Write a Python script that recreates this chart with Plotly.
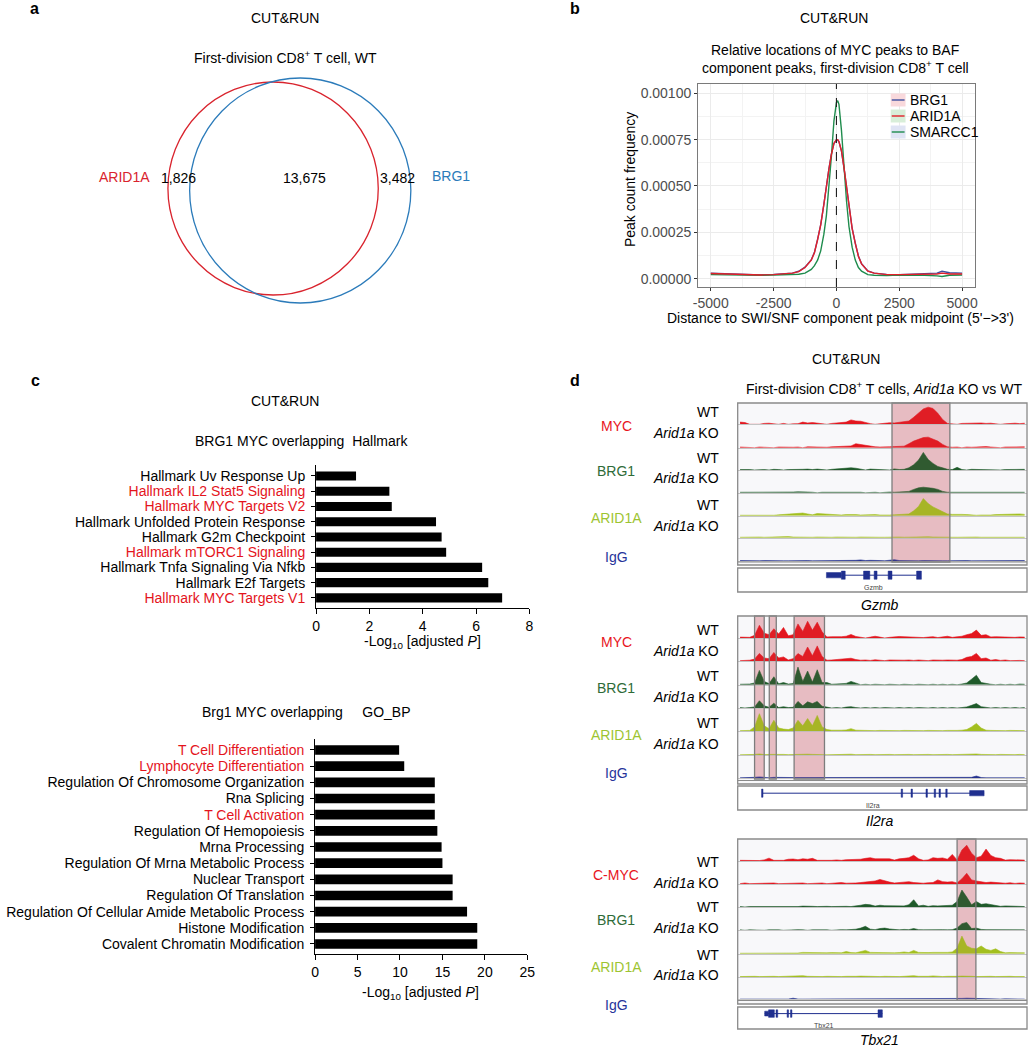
import plotly.graph_objects as go

W, H = 1036, 1050
FONT = "Arial, 'Liberation Sans', sans-serif"

# ------------------------------------------------------------------ data
VENN_SETS = ["ARID1A", "BRG1"]
VENN_COUNTS = ["1,826", "13,675", "3,482"]

B_X = [-5000, -4500, -4000, -3500, -3000, -2500, -2000, -1750, -1500, -1250, -1000, -875, -750, -625,
       -500, -400, -300, -200, -100, 0, 50, 100, 200, 300, 400, 500, 625, 750, 875, 1000, 1250, 1500,
       1750, 2000, 2500, 3000, 3500, 4000, 4200, 4500, 5000]
B_ARID1A = [0.000028, 0.000026, 0.000022, 0.00002, 0.00002, 0.000022, 0.000025, 0.00003, 0.000038, 0.00006,
            0.0001, 0.00014, 0.00021, 0.00029, 0.0004, 0.0005, 0.00059, 0.00067, 0.00073, 0.00075, 0.00075,
            0.00074, 0.00069, 0.0006, 0.0005, 0.0004, 0.00027, 0.00019, 0.00012, 0.00008, 0.00004, 0.00003,
            0.000025, 0.000022, 0.000022, 0.000023, 0.000022, 0.000025, 0.00003, 0.000025, 0.000025]
B_BRG1 = [0.00003, 0.000027, 0.000023, 0.000021, 0.00002, 0.000023, 0.000026, 0.00003, 0.00004, 0.000062,
          0.000102, 0.000142, 0.000212, 0.000292, 0.000402, 0.000502, 0.000592, 0.000672, 0.000728, 0.000748,
          0.000748, 0.000738, 0.000688, 0.000598, 0.000498, 0.000398, 0.000272, 0.000192, 0.000122, 0.00008,
          0.000042, 0.00003, 0.000025, 0.000023, 0.000022, 0.000024, 0.000025, 0.00003, 0.00004, 0.000032,
          0.00003]
B_SMARCC1 = [0.000022, 0.00002, 0.000018, 0.000017, 0.000018, 0.00002, 0.000022, 0.000022, 0.000024, 0.00003,
             0.00005, 0.00007, 0.0001, 0.00015, 0.00024, 0.00034, 0.00048, 0.00066, 0.00085, 0.00095, 0.00096,
             0.00094, 0.0008, 0.0006, 0.00042, 0.00028, 0.00017, 0.0001, 0.00006, 0.00004, 0.000022, 0.000018,
             0.000016, 0.000017, 0.00002, 0.00002, 0.000018, 0.000015, 0.000012, 0.000018, 0.00002]
B_XTICKS = [-5000, -2500, 0, 2500, 5000]
B_XMINOR = [-3750, -1250, 1250, 3750]
B_YTICKS = [0, 0.00025, 0.0005, 0.00075, 0.001]
B_YMINOR = [0.000125, 0.000375, 0.000625, 0.000875]
B_SERIES = ["BRG1", "ARID1A", "SMARCC1"]

HALLMARK_TERMS = ["Hallmark Uv Response Up", "Hallmark IL2 Stat5 Signaling", "Hallmark MYC Targets V2",
                  "Hallmark Unfolded Protein Response", "Hallmark G2m Checkpoint", "Hallmark mTORC1 Signaling",
                  "Hallmark Tnfa Signaling Via Nfkb", "Hallmark E2f Targets", "Hallmark MYC Targets V1"]
HALLMARK_VALUES = [1.5, 2.75, 2.84, 4.5, 4.71, 4.88, 6.23, 6.46, 6.98]
HALLMARK_RED = [False, True, True, False, False, True, False, False, True]
HALLMARK_XTICKS = [0, 2, 4, 6, 8]

GOBP_TERMS = ["T Cell Differentiation", "Lymphocyte Differentiation", "Regulation Of Chromosome Organization",
              "Rna Splicing", "T Cell Activation", "Regulation Of Hemopoiesis", "Mrna Processing",
              "Regulation Of Mrna Metabolic Process", "Nuclear Transport", "Regulation Of Translation",
              "Regulation Of Cellular Amide Metabolic Process", "Histone Modification",
              "Covalent Chromatin Modification"]
GOBP_VALUES = [9.9, 10.5, 14.1, 14.1, 14.1, 14.4, 14.9, 15.0, 16.2, 16.2, 17.9, 19.1, 19.1]
GOBP_RED = [True, True, False, False, True, False, False, False, False, False, False, False, False]
GOBP_XTICKS = [0, 5, 10, 15, 20, 25]

TRACK_NAMES = ["MYC WT", "MYC Arid1a KO", "BRG1 WT", "BRG1 Arid1a KO", "ARID1A WT", "ARID1A Arid1a KO", "IgG"]

GZMB_MYC_WT = [0.10, 0.08, 0, 0, 0, 0.04, 0.05, 0.02, 0, 0.04, 0, 0.02, 0.03, 0.10, 0.06, 0.08, 0.05, 0.03, 0, 0.04,
               0.06, 0.05, 0.10, 0.20, 0.15, 0.14, 0.07, 0.03, 0, 0.03, 0.06, 0.07, 0.06, 0.08, 0.10, 0.15, 0.32,
               0.52, 0.70, 0.78, 0.72, 0.50, 0.22, 0.04, 0.03, 0, 0.04, 0.05, 0.03, 0.05, 0.06, 0.04, 0.05, 0.02,
               0, 0.02, 0.04, 0.05, 0.03, 0.05]
GZMB_MYC_KO = [0.03, 0.02, 0.02, 0, 0.03, 0.02, 0.03, 0, 0.03, 0.02, 0.04, 0.02, 0.03, 0, 0.04, 0.03, 0.05, 0.04,
               0.02, 0.04, 0.05, 0.04, 0.06, 0.08, 0.18, 0.14, 0.10, 0.06, 0.04, 0.03, 0.05, 0.04, 0.05, 0.06,
               0.07, 0.18, 0.30, 0.38, 0.46, 0.48, 0.40, 0.30, 0.15, 0.04, 0.02, 0.03, 0, 0.03, 0.02, 0.04, 0.05,
               0.05, 0.03, 0.02, 0, 0.03, 0.04, 0.02, 0.03, 0.04]
GZMB_BRG1_WT = [0.02, 0.03, 0.02, 0, 0.02, 0.02, 0, 0.03, 0.02, 0, 0.02, 0.02, 0, 0.03, 0.04, 0.02, 0.04, 0.03, 0,
                0.03, 0.05, 0.06, 0.07, 0.10, 0.08, 0.05, 0, 0.04, 0.03, 0, 0.02, 0, 0.05, 0.02, 0.03, 0.10, 0.24,
                0.45, 0.80, 0.48, 0.30, 0.16, 0.10, 0.03, 0.02, 0.12, 0.02, 0, 0.03, 0.02, 0.04, 0.03, 0.02, 0, 0,
                0.02, 0.03, 0.02, 0.02, 0.03]
GZMB_BRG1_KO = [0.02, 0.02, 0, 0.02, 0.03, 0, 0.02, 0.02, 0, 0.02, 0.02, 0.03, 0.04, 0.05, 0.03, 0.02, 0, 0.02, 0.02,
                0.03, 0.02, 0.03, 0.04, 0.05, 0.03, 0.02, 0, 0.02, 0.02, 0, 0.02, 0.03, 0.02, 0.03, 0.04, 0.06,
                0.15, 0.22, 0.25, 0.24, 0.20, 0.15, 0.06, 0.02, 0.02, 0, 0.02, 0.02, 0, 0.03, 0.02, 0.03, 0.02, 0,
                0.02, 0.02, 0.03, 0.02, 0, 0.02]
GZMB_ARID1A_WT = [0.02, 0.02, 0.03, 0, 0.02, 0.02, 0.03, 0.02, 0.04, 0.05, 0.06, 0.08, 0.10, 0.12, 0.08, 0.04, 0.10,
                  0.08, 0.06, 0.07, 0.05, 0.03, 0.05, 0.06, 0.05, 0.03, 0.04, 0.06, 0.05, 0.03, 0.02, 0.03, 0.04,
                  0.05, 0.06, 0.08, 0.22, 0.42, 0.78, 0.55, 0.40, 0.30, 0.18, 0.08, 0.06, 0.07, 0.06, 0.05, 0.03,
                  0.02, 0.03, 0.02, 0.03, 0.05, 0.06, 0.04, 0.05, 0.06, 0.08, 0.06]
GZMB_ARID1A_KO = [0.02, 0.03, 0.02, 0.02, 0.03, 0.02, 0.03, 0.02, 0.04, 0.06, 0.05, 0.03, 0.02, 0.03, 0.02, 0.02,
                  0.03, 0.02, 0, 0.02, 0.03, 0.02, 0.02, 0.03, 0.02, 0.03, 0.02, 0.02, 0.03, 0.02, 0.02, 0.03,
                  0.04, 0.03, 0.02, 0.03, 0.02, 0.04, 0.03, 0.04, 0.03, 0.02, 0.02, 0.03, 0.02, 0.02, 0.03, 0.02,
                  0.02, 0.03, 0.02, 0.02, 0.03, 0.02, 0.02, 0.03, 0.02, 0.02, 0.03, 0.02]
GZMB_IGG = [0.02, 0.01, 0.01, 0.02, 0.01, 0.02, 0.01, 0.01, 0.02, 0.01, 0.01, 0.02, 0.01, 0.01, 0.02, 0.01, 0.01,
            0.02, 0.01, 0.01, 0.02, 0.01, 0.01, 0.02, 0.03, 0.05, 0.02, 0.03, 0.04, 0.02, 0.01, 0.05, 0.06, 0.02,
            0.01, 0.02, 0.01, 0.01, 0.02, 0.01, 0.01, 0.02, 0.01, 0.01, 0.02, 0.01, 0.01, 0.02, 0.01, 0.01, 0.02,
            0.01, 0.01, 0.02, 0.01, 0.01, 0.02, 0.01, 0.01, 0.02]

IL2RA_MYC_WT = [0.04, 0.05, 0.03, 0.12, 0.58, 0.22, 0.15, 0.42, 0.18, 0.48, 0.10, 0.15, 0.64, 0.30, 0.76, 0.35, 0.72,
                0.28, 0.05, 0.06, 0.05, 0.06, 0.08, 0.16, 0.07, 0.03, 0, 0.04, 0.08, 0.04, 0, 0.03, 0.06, 0.07,
                0.06, 0.05, 0.02, 0.03, 0.02, 0.04, 0.06, 0.02, 0.05, 0.08, 0.03, 0.04, 0.08, 0.15, 0.20, 0.36,
                0.12, 0.15, 0.05, 0.06, 0.05, 0.04, 0.06, 0.03, 0.05, 0.04]
IL2RA_MYC_KO = [0.03, 0.04, 0.05, 0.10, 0.36, 0.15, 0.12, 0.40, 0.15, 0.20, 0.06, 0.12, 0.35, 0.22, 0.65, 0.25, 0.70,
                0.22, 0.05, 0.06, 0.08, 0.10, 0.12, 0.14, 0.08, 0.05, 0.06, 0.04, 0.07, 0.05, 0.03, 0.06, 0.05,
                0.04, 0.05, 0.06, 0.04, 0.06, 0.05, 0.03, 0.06, 0.04, 0.05, 0.06, 0.04, 0.05, 0.08, 0.18, 0.22,
                0.36, 0.12, 0.15, 0.05, 0.08, 0.04, 0.06, 0.03, 0.05, 0.04, 0.03]
IL2RA_BRG1_WT = [0.02, 0.02, 0.03, 0.08, 0.65, 0.15, 0.05, 0.36, 0.04, 0.10, 0.03, 0.05, 0.80, 0.15, 0.62, 0.12,
                 0.68, 0.10, 0.10, 0.02, 0.03, 0.04, 0.06, 0.15, 0.06, 0, 0.02, 0, 0.02, 0, 0, 0.02, 0, 0, 0.02, 0,
                 0, 0.02, 0, 0, 0.02, 0, 0.02, 0, 0.02, 0, 0.03, 0.08, 0.25, 0.43, 0.10, 0.05, 0.02, 0, 0.02, 0,
                 0.02, 0, 0.03, 0.02]
IL2RA_BRG1_KO = [0.02, 0, 0.02, 0.05, 0.33, 0.10, 0.03, 0.22, 0.02, 0.06, 0.02, 0.03, 0.30, 0.10, 0.28, 0.20, 0.30,
                 0.08, 0.04, 0, 0.02, 0, 0.04, 0.06, 0.02, 0, 0.02, 0, 0.02, 0, 0.02, 0, 0, 0.02, 0, 0.02, 0, 0.02,
                 0, 0, 0.02, 0, 0.02, 0, 0.02, 0, 0.02, 0.05, 0.12, 0.20, 0.06, 0.02, 0, 0.02, 0, 0.02, 0, 0.02, 0,
                 0.02]
IL2RA_ARID1A_WT = [0.03, 0.03, 0.04, 0.20, 0.80, 0.25, 0.12, 0.50, 0.15, 0.10, 0.08, 0.15, 0.50, 0.25, 0.58, 0.25,
                   0.72, 0.20, 0.08, 0.05, 0.04, 0.05, 0.06, 0.12, 0.05, 0.04, 0.03, 0.04, 0.03, 0.04, 0.03, 0.04,
                   0.03, 0.03, 0.04, 0.03, 0.04, 0.03, 0.03, 0.04, 0.03, 0.04, 0.03, 0.04, 0.03, 0.04, 0.05, 0.08,
                   0.20, 0.36, 0.15, 0.05, 0.04, 0.03, 0.04, 0.03, 0.04, 0.03, 0.04, 0.03]
IL2RA_ARID1A_KO = [0.02, 0.02, 0.03, 0.04, 0.06, 0.03, 0.04, 0.05, 0.03, 0.04, 0.03, 0.04, 0.05, 0.04, 0.05, 0.04,
                   0.05, 0.03, 0.02, 0.03, 0.04, 0.03, 0.04, 0.05, 0.03, 0.04, 0.03, 0.04, 0.03, 0.04, 0.03, 0.04,
                   0.03, 0.04, 0.03, 0.04, 0.03, 0.04, 0.03, 0.04, 0.03, 0.04, 0.03, 0.04, 0.03, 0.04, 0.03, 0.04,
                   0.05, 0.06, 0.04, 0.03, 0.04, 0.03, 0.04, 0.03, 0.04, 0.03, 0.04, 0.03]
IL2RA_IGG = [0.01, 0.01, 0.02, 0.03, 0.05, 0.02, 0.01, 0.03, 0.02, 0.01, 0.01, 0.02, 0.02, 0.02, 0.03, 0.02, 0.02,
             0.02, 0.03, 0.01, 0.01, 0.01, 0.02, 0.01, 0.01, 0.02, 0.01, 0.01, 0.01, 0.02, 0.01, 0.01, 0.01, 0.02,
             0.01, 0.01, 0.01, 0.02, 0.01, 0.01, 0.01, 0.02, 0.01, 0.01, 0.01, 0.02, 0.01, 0.02, 0.03, 0.09, 0.02,
             0.01, 0.01, 0.02, 0.01, 0.01, 0.02, 0.01, 0.01, 0.01]

TBX21_MYC_WT = [0.03, 0.02, 0.04, 0.03, 0.02, 0.05, 0.13, 0.03, 0.02, 0.03, 0.08, 0.09, 0.06, 0.10, 0.08, 0.12, 0.03,
                0.02, 0.04, 0.03, 0.05, 0.03, 0.06, 0.07, 0.05, 0.08, 0.12, 0.15, 0.10, 0.10, 0.12, 0.10, 0.04,
                0.10, 0.12, 0.15, 0.26, 0.10, 0.03, 0.05, 0.15, 0.12, 0.14, 0.08, 0.30, 0.05, 0.50, 0.72, 0.35,
                0.15, 0.22, 0.54, 0.25, 0.15, 0.12, 0.04, 0.06, 0.05, 0.07, 0.04]
TBX21_MYC_KO = [0.03, 0.06, 0.03, 0.04, 0.02, 0.05, 0.04, 0.06, 0.03, 0.04, 0.06, 0.05, 0.07, 0.06, 0.03, 0.05, 0.04,
                0.06, 0.03, 0.05, 0.06, 0.08, 0.05, 0.04, 0.06, 0.08, 0.10, 0.12, 0.15, 0.22, 0.15, 0.10, 0.06,
                0.08, 0.10, 0.12, 0.08, 0.06, 0.05, 0.07, 0.08, 0.20, 0.12, 0.10, 0.12, 0.06, 0.25, 0.50, 0.20,
                0.15, 0.10, 0.08, 0.10, 0.08, 0.06, 0.05, 0.07, 0.04, 0.06, 0.05]
TBX21_BRG1_WT = [0.02, 0, 0.02, 0.02, 0, 0.02, 0.03, 0, 0.02, 0, 0.02, 0.03, 0.02, 0.04, 0.05, 0.03, 0.02, 0.04, 0.03,
                 0.02, 0.03, 0.02, 0.03, 0.02, 0.04, 0.08, 0.12, 0.10, 0.04, 0.08, 0.06, 0.05, 0.04, 0.06, 0.05,
                 0.10, 0.33, 0.05, 0.08, 0.03, 0.06, 0.05, 0.06, 0.04, 0.08, 0.25, 0.77, 0.45, 0.10, 0.25, 0.12,
                 0.15, 0.10, 0.08, 0.03, 0.05, 0.04, 0.03, 0.03, 0.02]
TBX21_BRG1_KO = [0.02, 0, 0.02, 0.01, 0.02, 0, 0.02, 0.03, 0.02, 0, 0.02, 0.02, 0.03, 0.02, 0, 0.02, 0.03, 0.02, 0.02,
                 0, 0.02, 0.03, 0.02, 0.03, 0.05, 0.10, 0.18, 0.05, 0.03, 0.08, 0.10, 0.06, 0.03, 0.02, 0.04, 0.03,
                 0.08, 0.03, 0.02, 0.03, 0.02, 0.04, 0.03, 0.02, 0.03, 0.10, 0.30, 0.36, 0.08, 0.10, 0.04, 0.03,
                 0.03, 0.02, 0.02, 0.04, 0.02, 0.02, 0.02, 0.02]
TBX21_ARID1A_WT = [0.02, 0.02, 0.03, 0.02, 0.03, 0.02, 0.03, 0.02, 0.03, 0.02, 0.03, 0.02, 0.03, 0.06, 0.05, 0.04,
                   0.03, 0.05, 0.04, 0.05, 0.03, 0.04, 0.10, 0.05, 0.04, 0.08, 0.15, 0.06, 0.05, 0.06, 0.05, 0.04,
                   0.04, 0.05, 0.08, 0.05, 0.15, 0.06, 0.04, 0.05, 0.06, 0.05, 0.07, 0.06, 0.08, 0.25, 0.80, 0.35,
                   0.25, 0.22, 0.35, 0.20, 0.15, 0.22, 0.10, 0.04, 0.05, 0.04, 0.05, 0.04]
TBX21_ARID1A_KO = [0.02, 0.03, 0.02, 0.03, 0.02, 0.03, 0.02, 0.03, 0.02, 0.03, 0.02, 0.03, 0.04, 0.06, 0.03, 0.02,
                   0.03, 0.02, 0.03, 0.02, 0.03, 0.02, 0.03, 0.02, 0.03, 0.04, 0.03, 0.02, 0.03, 0.02, 0.03, 0.02,
                   0.03, 0.02, 0.03, 0.04, 0.06, 0.03, 0.02, 0.03, 0.05, 0.03, 0.02, 0.03, 0.02, 0.03, 0.04, 0.05,
                   0.03, 0.02, 0.03, 0.02, 0.03, 0.02, 0.03, 0.02, 0.03, 0.02, 0.03, 0.02]
TBX21_IGG = [0.01, 0.01, 0.01, 0.02, 0.01, 0.01, 0.01, 0.01, 0.02, 0.01, 0.01, 0.05, 0.01, 0.01, 0.01, 0.02, 0.01,
             0.01, 0.01, 0.01, 0.02, 0.01, 0.01, 0.01, 0.01, 0.01, 0.04, 0.01, 0.01, 0.01, 0.04, 0.01, 0.01, 0.02,
             0.01, 0.01, 0.01, 0.01, 0.01, 0.01, 0.01, 0.02, 0.01, 0.01, 0.02, 0.03, 0.04, 0.05, 0.04, 0.04, 0.02,
             0.01, 0.01, 0.01, 0.01, 0.02, 0.01, 0.01, 0.01, 0.01]

GZMB_TRACKS = [GZMB_MYC_WT, GZMB_MYC_KO, GZMB_BRG1_WT, GZMB_BRG1_KO, GZMB_ARID1A_WT, GZMB_ARID1A_KO, GZMB_IGG]
IL2RA_TRACKS = [IL2RA_MYC_WT, IL2RA_MYC_KO, IL2RA_BRG1_WT, IL2RA_BRG1_KO, IL2RA_ARID1A_WT, IL2RA_ARID1A_KO, IL2RA_IGG]
TBX21_TRACKS = [TBX21_MYC_WT, TBX21_MYC_KO, TBX21_BRG1_WT, TBX21_BRG1_KO, TBX21_ARID1A_WT, TBX21_ARID1A_KO, TBX21_IGG]

# highlighted regions and gene models, in bin units
GZMB_HL = [(31.5, 43.5)]
IL2RA_HL = [(3.0, 5.0), (6.05, 7.5), (11.2, 17.5)]
TBX21_HL = [(45.0, 48.9)]
GZMB_SPAN = (21.0, 36.6)
GZMB_EXONS = [(17.9, 21.0, "utr"), (21.0, 21.8, "cds"), (25.6, 26.9, "cds"), (27.8, 28.4, "cds"),
              (30.7, 31.5, "cds"), (36.6, 37.6, "cds")]
IL2RA_SPAN = (4.6, 50.6)
IL2RA_EXONS = [(4.45, 4.75, "cds"), (33.4, 33.7, "cds"), (35.45, 35.75, "cds"), (38.55, 38.85, "cds"),
               (40.25, 40.55, "cds"), (41.25, 41.55, "cds"), (42.65, 42.95, "cds"), (47.6, 50.6, "utr")]
TBX21_SPAN = (5.1, 29.5)
TBX21_EXONS = [(5.1, 5.9, "utr"), (5.9, 7.1, "cds"), (7.45, 7.8, "cds"), (9.75, 10.05, "cds"),
               (10.45, 10.75, "cds"), (28.6, 29.5, "cds")]

# ------------------------------------------------------------------ helpers
def X(p):
    return p / W


def Y(p):
    return 1 - p / H


layout = dict(width=W, height=H, margin=dict(l=0, r=0, t=0, b=0), paper_bgcolor="white",
              plot_bgcolor="rgba(0,0,0,0)", font=dict(family=FONT, size=14, color="black"),
              shapes=[], annotations=[], showlegend=False)
traces = []
_n = [0]


def new_axes(xd, yd, xo, yo):
    _n[0] += 1
    s = "" if _n[0] == 1 else str(_n[0])
    layout["xaxis" + s] = dict(domain=[X(xd[0]), X(xd[1])], anchor="y" + s, **xo)
    layout["yaxis" + s] = dict(domain=[Y(yd[1]), Y(yd[0])], anchor="x" + s, **yo)
    return "x" + s, "y" + s


def text(x, y, s, size=14, color="black", xanchor="center", textangle=0):
    layout["annotations"].append(dict(x=X(x), y=Y(y), xref="paper", yref="paper", text=s, showarrow=False,
                                      font=dict(size=size, color=color, family=FONT), xanchor=xanchor,
                                      yanchor="middle", textangle=textangle))


def rect(x0, y0, x1, y1, line="#8a8a8a", fill="rgba(0,0,0,0)", width=1.2, layer="above"):
    layout["shapes"].append(dict(type="rect", xref="paper", yref="paper", x0=X(x0), x1=X(x1), y0=Y(y1),
                                 y1=Y(y0), line=dict(color=line, width=width), fillcolor=fill, layer=layer))


# ------------------------------------------------------------------ panel a
text(30, 8, "<b>a</b>", size=16)
text(284, 18, "CUT&RUN")
text(284, 57, "First-division CD8<sup>+</sup> T cell, WT")
RED_A, BLUE_A = "#d9232d", "#2b7bba"
layout["shapes"].append(dict(type="circle", xref="paper", yref="paper", x0=X(165), x1=X(378), y0=Y(295),
                             y1=Y(82), line=dict(color=RED_A, width=1.3)))
layout["shapes"].append(dict(type="circle", xref="paper", yref="paper", x0=X(187), x1=X(411), y0=Y(303),
                             y1=Y(78), line=dict(color=BLUE_A, width=1.3)))
text(121, 177, VENN_SETS[0], color=RED_A)
text(452, 176, VENN_SETS[1], color=BLUE_A)
for xx, c in zip([176, 303, 397], VENN_COUNTS):
    text(xx, 178, c)

# ------------------------------------------------------------------ panel b
text(577, 8, "<b>b</b>", size=16)
text(840, 18, "CUT&RUN")
text(841, 50, "Relative locations of MYC peaks to BAF")
text(841, 67, "component peaks, first-division CD8<sup>+</sup> T cell")
bx, by = new_axes((702, 982), (84, 287),
                  dict(range=[-5500, 5500], tickmode="array", tickvals=B_XTICKS,
                       ticktext=[str(v) if v >= 0 else "-" + str(-v) for v in B_XTICKS],
                       showgrid=True, gridcolor="#ebebeb", gridwidth=1.2,
                       minor=dict(tickvals=B_XMINOR, showgrid=True, gridcolor="#f3f3f3", gridwidth=0.8),
                       showline=True, mirror=True, linecolor="#7a7a7a", linewidth=1.3, ticks="outside",
                       ticklen=3, tickcolor="#333", tickfont=dict(size=14, color="#4d4d4d"), zeroline=False),
                  dict(range=[-0.000045, 0.00105], tickmode="array", tickvals=B_YTICKS,
                       ticktext=["%.5f" % v for v in B_YTICKS], showgrid=True, gridcolor="#ebebeb",
                       gridwidth=1.2,
                       minor=dict(tickvals=B_YMINOR, showgrid=True, gridcolor="#f3f3f3", gridwidth=0.8),
                       showline=True, mirror=True, linecolor="#7a7a7a", linewidth=1.3, ticks="outside",
                       ticklen=3, tickcolor="#333", tickfont=dict(size=14, color="#4d4d4d"), zeroline=False))
B_LINE = {"BRG1": "#3f4fa0", "ARID1A": "#e3202a", "SMARCC1": "#1f8c4d"}
B_FILL = {"BRG1": "#f9d9dc", "ARID1A": "#d8eed9", "SMARCC1": "#dfe4f4"}
B_DATA = {"BRG1": B_BRG1, "ARID1A": B_ARID1A, "SMARCC1": B_SMARCC1}
for name in ["BRG1", "SMARCC1", "ARID1A"]:
    traces.append(go.Scatter(x=B_X, y=B_DATA[name], mode="lines", name=name,
                             line=dict(color=B_LINE[name], width=1.4), xaxis=bx, yaxis=by))
layout["shapes"].append(dict(type="line", xref=bx, yref=by + " domain", x0=0, x1=0, y0=0, y1=1,
                             line=dict(color="#222", width=1.1, dash="dash")))
# legend (keys drawn as in ggplot: filled key box with line)
for name, ky in zip(B_SERIES, [100, 116, 132]):
    rect(897, ky - 6.5, 912, ky + 6.5, line="rgba(0,0,0,0)", fill=B_FILL[name], width=0)
    layout["shapes"].append(dict(type="line", xref="paper", yref="paper", x0=X(898), x1=X(911), y0=Y(ky),
                                 y1=Y(ky), line=dict(color=B_LINE[name], width=1.4)))
    text(914, ky, name, xanchor="left")
text(846, 318, "Distance to SWI/SNF component peak midpoint (5'\u2212>3')")
text(633, 180, "Peak count frequency", textangle=-90)


# ------------------------------------------------------------------ panel c
def red_label(t, red):
    return "<span style='color:#e4141c'>%s</span>" % t if red else t


def hbar(terms, values, reds, xticks, xd, yd, pad_top, pad_bot, color="black"):
    n = len(terms)
    ax, ay = new_axes(xd, yd,
                      dict(range=[xticks[0], xticks[-1]], tickmode="array", tickvals=xticks, showgrid=False,
                           zeroline=False, showline=True, linecolor="black", linewidth=1, ticks="outside",
                           ticklen=5, tickcolor="black", tickfont=dict(size=14)),
                      dict(type="category", categoryorder="array", categoryarray=terms,
                           range=[n - 1 + pad_bot, -pad_top], tickmode="array", tickvals=terms,
                           ticktext=[red_label(t, r) for t, r in zip(terms, reds)], showgrid=False,
                           zeroline=False, showline=True, linecolor="black", linewidth=1, ticks="outside",
                           ticklen=4, tickcolor="black", tickfont=dict(size=14), ticklabelstandoff=3))
    traces.append(go.Bar(x=values, y=terms, orientation="h", width=0.6, marker=dict(color=color, line_width=0),
                         xaxis=ax, yaxis=ay))


text(31, 380, "<b>c</b>", size=16)
text(284, 401, "CUT&RUN")
text(300, 441, "BRG1 MYC overlapping  Hallmark")
hbar(HALLMARK_TERMS, HALLMARK_VALUES, HALLMARK_RED, HALLMARK_XTICKS, (315, 531), (465, 608), 0.72, 0.66)
text(423, 642, "-Log<sub>10</sub> [adjusted <i>P</i>]")
text(305, 712, "Brg1 MYC overlapping     GO_BP")
hbar(GOBP_TERMS, GOBP_VALUES, GOBP_RED, GOBP_XTICKS, (314, 529), (739, 954), 0.68, 0.62)
text(421, 993, "-Log<sub>10</sub> [adjusted <i>P</i>]")

# ------------------------------------------------------------------ panel d
text(577, 380, "<b>d</b>", size=16)
text(852, 359, "CUT&RUN")
text(890, 388, "First-division CD8<sup>+</sup> T cells, <i>Arid1a</i> KO vs WT")

TRACK_COLORS = ["#e3161e", "#e3161e", "#1f5a2a", "#1f5a2a", "#a3bf1f", "#a3bf1f", "#23308f"]
GROUP_COLORS = ["#e8141c", "#2e6b38", "#9dc431", "#26329a"]
BLOCKS = [
    dict(gene="Gzmb", tracks=GZMB_TRACKS, hl=GZMB_HL, span=GZMB_SPAN, exons=GZMB_EXONS,
         groups=["MYC", "BRG1", "ARID1A", "IgG"], top=403, bottom=565, dbl=562, gtop=568, gbot=592,
         base=[424.3, 447.7, 470, 492.7, 515.7, 537.7, 561], gy=[426, 471, 518, 557], wt=[412, 458, 505],
         ko=[433, 478, 526], name_y=605),
    dict(gene="Il2ra", tracks=IL2RA_TRACKS, hl=IL2RA_HL, span=IL2RA_SPAN, exons=IL2RA_EXONS,
         groups=["MYC", "BRG1", "ARID1A", "IgG"], top=616, bottom=784, dbl=780.5, gtop=786, gbot=810,
         base=[638, 661.3, 684.7, 708, 731.3, 755.3, 778], gy=[642, 688, 735, 773], wt=[630, 676, 723],
         ko=[651, 697, 744], name_y=821),
    dict(gene="Tbx21", tracks=TBX21_TRACKS, hl=TBX21_HL, span=TBX21_SPAN, exons=TBX21_EXONS,
         groups=["C-MYC", "BRG1", "ARID1A", "IgG"], top=839, bottom=1004, dbl=1000.5, gtop=1007, gbot=1029,
         base=[861, 884.3, 907, 930.3, 953.7, 977, 999.3], gy=[875, 920, 967, 1005], wt=[862, 907, 955],
         ko=[883, 928, 975], name_y=1040),
]
XL, XR = 742, 1035
TH = 22
for blk in BLOCKS:
    n = len(blk["tracks"][0])
    xr = [-0.5, n - 0.5]
    rect(XL, blk["top"], XR, blk["bottom"], line="rgba(0,0,0,0)", fill="#f8f8fa", layer="below")
    first_x = None
    for k, (vals, col) in enumerate(zip(blk["tracks"], TRACK_COLORS)):
        b = blk["base"][k]
        ax, ay = new_axes((XL, XR), (b - TH, b),
                          dict(range=xr, showline=True, linecolor="#c4c4c4", linewidth=1, showticklabels=False,
                               ticks="", showgrid=False, zeroline=False),
                          dict(range=[0, 1], visible=False, showgrid=False, zeroline=False))
        if first_x is None:
            first_x = ax
        traces.append(go.Scatter(x=list(range(n)), y=vals, mode="lines", fill="tozeroy", fillcolor=col,
                                 line=dict(color=col, width=0.6), xaxis=ax, yaxis=ay,
                                 name=blk["gene"] + " " + TRACK_NAMES[k], hoverinfo="skip"))
    for (h0, h1) in blk["hl"]:
        # pink region fill under the signal, grey frame and light tint over it
        layout["shapes"].append(dict(type="rect", xref=first_x, yref="paper", x0=h0, x1=h1,
                                     y0=Y(blk["base"][-1] + 1), y1=Y(blk["top"]),
                                     fillcolor="rgba(205,95,110,0.32)", line=dict(width=0), layer="below"))
        layout["shapes"].append(dict(type="rect", xref=first_x, yref="paper", x0=h0, x1=h1,
                                     y0=Y(blk["base"][-1] + 1), y1=Y(blk["top"]),
                                     fillcolor="rgba(205,95,110,0.10)", line=dict(color="#7d7d7d", width=1.3),
                                     layer="above"))
    rect(XL, blk["top"], XR, blk["bottom"], line="#8a8a8a", width=1.3)
    layout["shapes"].append(dict(type="line", xref="paper", yref="paper", x0=X(XL), x1=X(XR),
                                 y0=Y(blk["dbl"]), y1=Y(blk["dbl"]), line=dict(color="#8a8a8a", width=1.2)))
    rect(XL, blk["gtop"], XR, blk["gbot"], line="#8a8a8a", width=1.3)
    # gene model
    gx, gy = new_axes((XL, XR), (blk["gtop"], blk["gbot"]),
                      dict(range=xr, visible=False, showgrid=False, zeroline=False),
                      dict(range=[-1.4, 0.6], visible=False, showgrid=False, zeroline=False))
    traces.append(go.Scatter(x=list(blk["span"]), y=[0, 0], mode="lines", line=dict(color="#1f2f8f", width=1),
                             xaxis=gx, yaxis=gy, hoverinfo="skip"))
    for (s, e, kind) in blk["exons"]:
        hh = 0.34 if kind == "cds" else 0.22
        traces.append(go.Scatter(x=[s, e, e, s, s], y=[-hh, -hh, hh, hh, -hh], mode="lines", fill="toself",
                                 fillcolor="#1f2f8f", line=dict(color="#1f2f8f", width=0.5), xaxis=gx,
                                 yaxis=gy, hoverinfo="skip"))
    layout["annotations"].append(dict(x=(blk["exons"][0][0] + blk["exons"][-1][1]) / 2, y=-1.05, xref=gx,
                                      yref=gy, text=blk["gene"], showarrow=False,
                                      font=dict(size=7, color="#444", family=FONT)))
    text(886, blk["name_y"], "<i>%s</i>" % blk["gene"])
    for g, yy, c in zip(blk["groups"], blk["gy"], GROUP_COLORS):
        text(619, yy, g, color=c)
    for yy in blk["wt"]:
        text(725, yy, "WT", xanchor="right")
    for yy in blk["ko"]:
        text(725, yy, "<i>Arid1a</i> KO", xanchor="right")

fig = go.Figure(data=traces, layout=layout)
fig.write_html("out.html", config={"displayModeBar": False},
               post_script="document.body.style.margin='0px';document.body.style.padding='0px';")
